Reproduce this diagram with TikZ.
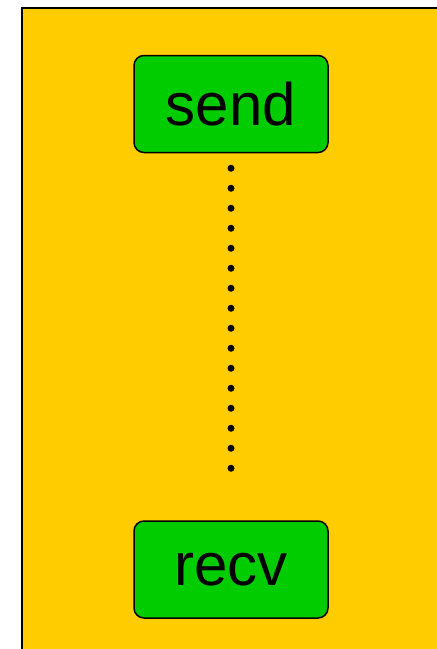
\documentclass[tikz,border=0pt]{standalone}
\usepackage{fontspec}
\setmainfont{Liberation Sans}
\usetikzlibrary{positioning}
\definecolor{frameyellow}{HTML}{FFCC00}
\definecolor{boxgreen}{HTML}{00CC00}

\begin{document}
\begin{tikzpicture}[x=1pt, y=-1pt, node distance=367pt]
        \useasboundingbox (0,0) rectangle (437,649);
        \clip (0,0) rectangle (437,649);

        % Background frame
        \draw[fill=frameyellow, line width=1.5pt] (22,8) rectangle (450,660);

        % Send
        \node (send) [draw, rectangle, rounded corners=10pt, line width=1.5pt, minimum width=194pt, minimum height=97pt, inner sep=0pt, fill=boxgreen, font=\fontsize{60}{72}\selectfont] at (231,104) {send};

        % Recv
        \node (recv) [draw, rectangle, rounded corners=10pt, line width=1.5pt, minimum width=194pt, minimum height=97pt, inner sep=0pt, fill=boxgreen, font=\fontsize{60}{72}\selectfont, below=of send] {recv};

        % Dotted link
        \draw[line width=7pt, line cap=round, dash pattern=on 0pt off 20pt, shorten <=15pt, shorten >=50pt] (send) -- (recv);
    \end{tikzpicture}
\end{document}
